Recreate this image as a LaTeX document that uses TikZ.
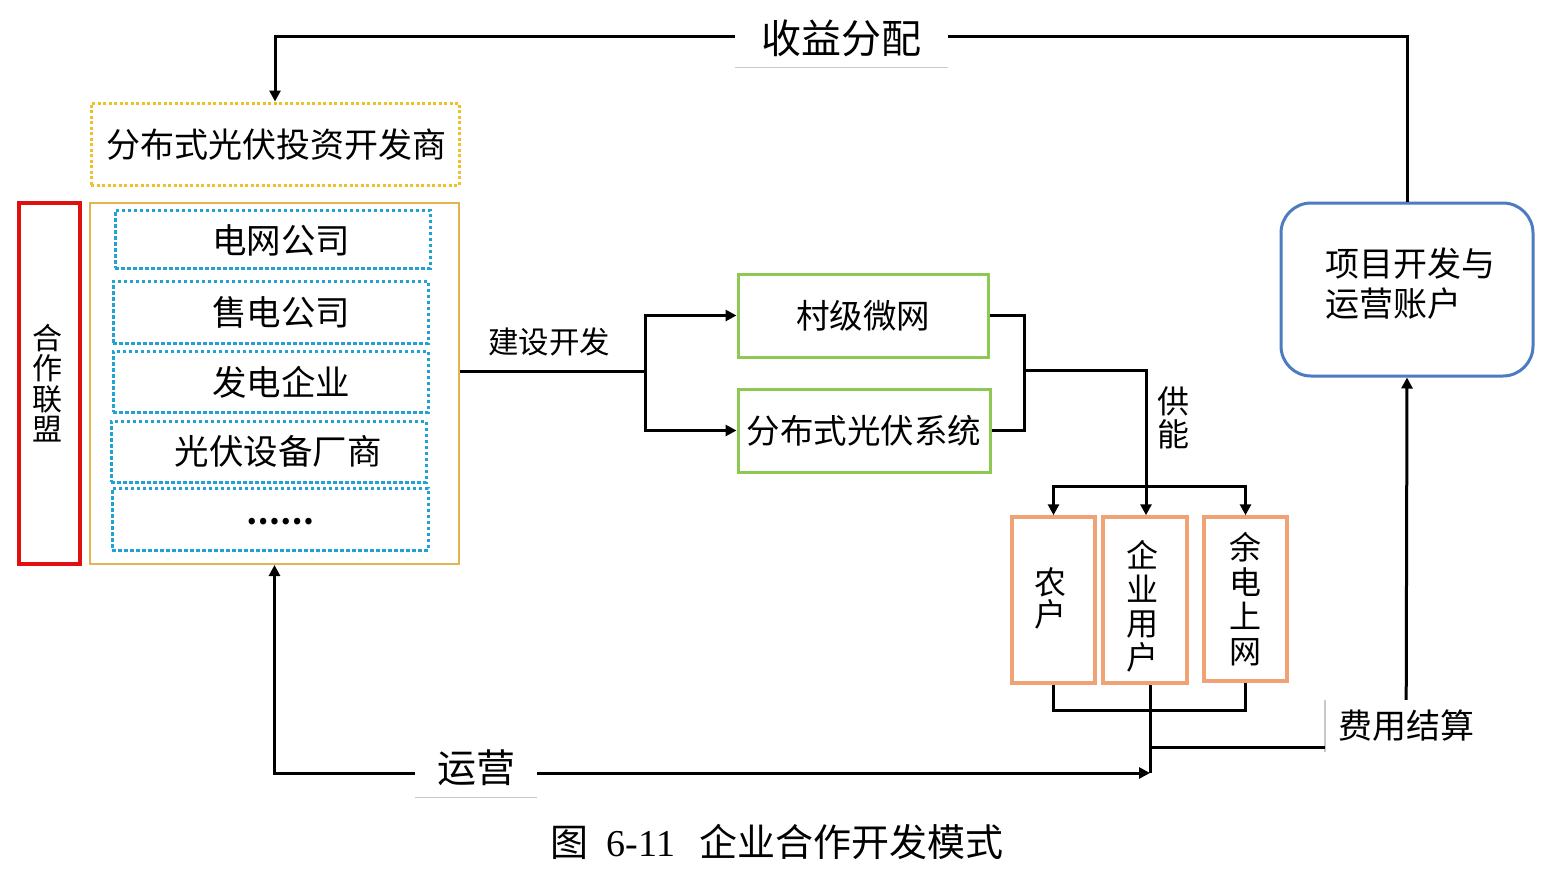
\documentclass[tikz,border=0pt]{standalone}
\usepackage{fontspec}
\setmainfont{Noto Sans CJK SC}
\newfontfamily\serifnum{Liberation Serif}
\usetikzlibrary{arrows.meta,calc}
\definecolor{dotyellow}{HTML}{EEC02A}
\definecolor{gold}{HTML}{E2B550}
\definecolor{alred}{HTML}{E01010}
\definecolor{dotblue}{HTML}{22A2D2}
\definecolor{green}{HTML}{8DC853}
\definecolor{peach}{HTML}{F0A276}
\definecolor{acblue}{HTML}{4D7BC0}
\definecolor{ulgrey}{HTML}{C8C8C8}
\tikzset{
  fs/.style={font=\fontsize{#1}{#1}\selectfont},
  fsl/.style 2 args={font=\fontsize{#1}{#2}\selectfont},
  box/.style={draw, inner sep=0pt, align=center},
  ylwdot/.style={box, draw=dotyellow, line width=3pt, dash pattern=on 3pt off 2.5pt},
  bluedot/.style={box, draw=dotblue, line width=3pt, dash pattern=on 3.5pt off 2.5pt},
  goldbox/.style={box, draw=gold, line width=2pt},
  redbox/.style={box, draw=alred, line width=3.5pt},
  greenbox/.style={box, draw=green, line width=3pt},
  peachbox/.style={box, draw=peach, line width=3.5pt},
  acctbox/.style={box, draw=acblue, line width=3pt, rounded corners=30pt},
  conn/.style={line width=3pt, black},
  arr/.style={conn, -{Triangle[length=11pt,width=11pt]}},
  darr/.style={conn, {Triangle[length=11pt,width=11pt]}-{Triangle[length=11pt,width=11pt]}},
  lbl/.style={fill=white, inner sep=0pt},
}
\begin{document}
\begin{tikzpicture}[x=1pt,y=-1pt]
\useasboundingbox (0,0) rectangle (1558,870);

% left group
\node[ylwdot, minimum width=368pt, minimum height=82pt] (dev) at (275,144) {};
\node[fs=34, inner sep=0pt] (devtxt) at (276,145) {分布式光伏投资开发商};
\node[redbox, minimum width=61pt, minimum height=361pt] (alliance) at (49.5,383.5) {};
\node[fsl={30}{30.5}, align=center, inner sep=0pt] (alltxt) at (47,383) {合\\作\\联\\盟};
\node[goldbox, minimum width=369pt, minimum height=361pt] (gold) at (274.5,383.5) {};
\node[bluedot, minimum width=315pt, minimum height=58pt] (b1) at (272.5,239) {};
\node[bluedot, minimum width=315pt, minimum height=62pt] (b2) at (270.5,312) {};
\node[bluedot, minimum width=315pt, minimum height=61pt] (b3) at (270.5,381.5) {};
\node[bluedot, minimum width=315pt, minimum height=61pt] (b4) at (268.5,451.5) {};
\node[bluedot, minimum width=316pt, minimum height=62pt] (b5) at (270,519) {};
\node[fs=34.5, inner sep=0pt] (t1) at (281,240) {电网公司};
\node[fs=34.5, inner sep=0pt] (t2) at (281,312) {售电公司};
\node[fs=34.5, inner sep=0pt] (t3) at (281,382) {发电企业};
\node[fs=34.5, inner sep=0pt] (t4) at (278,451) {光伏设备厂商};
\node[font=\fontsize{30}{30}\selectfont\bfseries, inner sep=0pt] (t5) at (280,522) {……};

% middle
\node[greenbox, minimum width=250pt, minimum height=83pt, fs=33.5] (g1) at (863,315.5) {村级微网};
\node[greenbox, minimum width=252pt, minimum height=83pt, fs=33.5] (g2) at (864,430.5) {分布式光伏系统};

\coordinate (split) at (645,371);
\draw[conn] (gold.east |- split) -- (split);
\draw[arr] (split) |- (g1.west);
\draw[arr] (split) |- (g2.west);
\node[fs=30.5, inner sep=0pt] (build) at (549,342) {建设开发};

\coordinate (merge) at (1024,370);
\draw[conn] (g1.east) -| (merge) |- (g2.east);
\coordinate (dist) at (1146,486);
\draw[conn] (merge) -| (dist);
\node[fsl={32}{33}, align=center, inner sep=0pt] (supply) at (1173,418) {供\\能};

% users
\node[peachbox, minimum width=83pt, minimum height=166pt] (u1) at (1053.5,600) {};
\node[peachbox, minimum width=84pt, minimum height=166pt] (u2) at (1145,600) {};
\node[peachbox, minimum width=83pt, minimum height=164pt] (u3) at (1245.5,599) {};
\node[fsl={32}{32}, align=center, inner sep=0pt] (u1t) at (1050,598) {农\\户};
\node[fsl={32}{34}, align=center, inner sep=0pt] (u2t) at (1142,606) {企\\业\\用\\户};
\node[fsl={32}{34.5}, align=center, inner sep=0pt] (u3t) at (1245,599) {余\\电\\上\\网};

\draw[arr] (dist) -- (dist |- u2.north);
\draw[arr] (dist) -| (u1.north);
\draw[arr] (dist) -| (u3.north);

\coordinate (bj) at (1150,710);
\draw[conn] (u1.south) |- (bj) -| (u3.south);
\coordinate (opsend) at (1150,773);
\draw[conn] (bj |- u2.south) -- (opsend);

% account + fee
\node[acctbox, minimum width=252pt, minimum height=173pt] (acct) at (1407,289.5) {};
\node[fsl={34}{40}, align=left, inner sep=0pt] (accttxt) at (1410,284) {项目开发与\\运营账户};
\node[fs=34, anchor=west, inner xsep=13pt, inner ysep=0pt, minimum height=52pt] (fee) at (1325,726) {费用结算};
\draw[ulgrey, line width=1.2pt] (fee.north west) -- (fee.south west);
\coordinate (feein) at (1325,747);
\draw[conn] (opsend |- feein) -- (feein);
\draw[arr] (fee.north) -- (acct.south);

% top loop
\coordinate (topR) at (1407,36);
\draw[arr] (acct.north) -- (topR) -| (dev.north);
\node[lbl, fs=40, minimum width=213pt, minimum height=58pt] (profit) at (841.5,38) {收益分配};
\draw[ulgrey, line width=1.2pt] (profit.south west) -- (profit.south east);

% bottom loop
\draw[darr] (gold.south) |- (opsend);
\node[lbl, fs=39, minimum width=122pt, minimum height=58pt] (ops) at (476,768) {运营};
\draw[ulgrey, line width=1.2pt] (ops.south west) -- (ops.south east);

% caption
\node[fs=38, inner sep=0pt] (caption) at (777,842) {图\hspace{18pt}{\serifnum 6-11}\hspace{24pt}企业合作开发模式};
\end{tikzpicture}
\end{document}
